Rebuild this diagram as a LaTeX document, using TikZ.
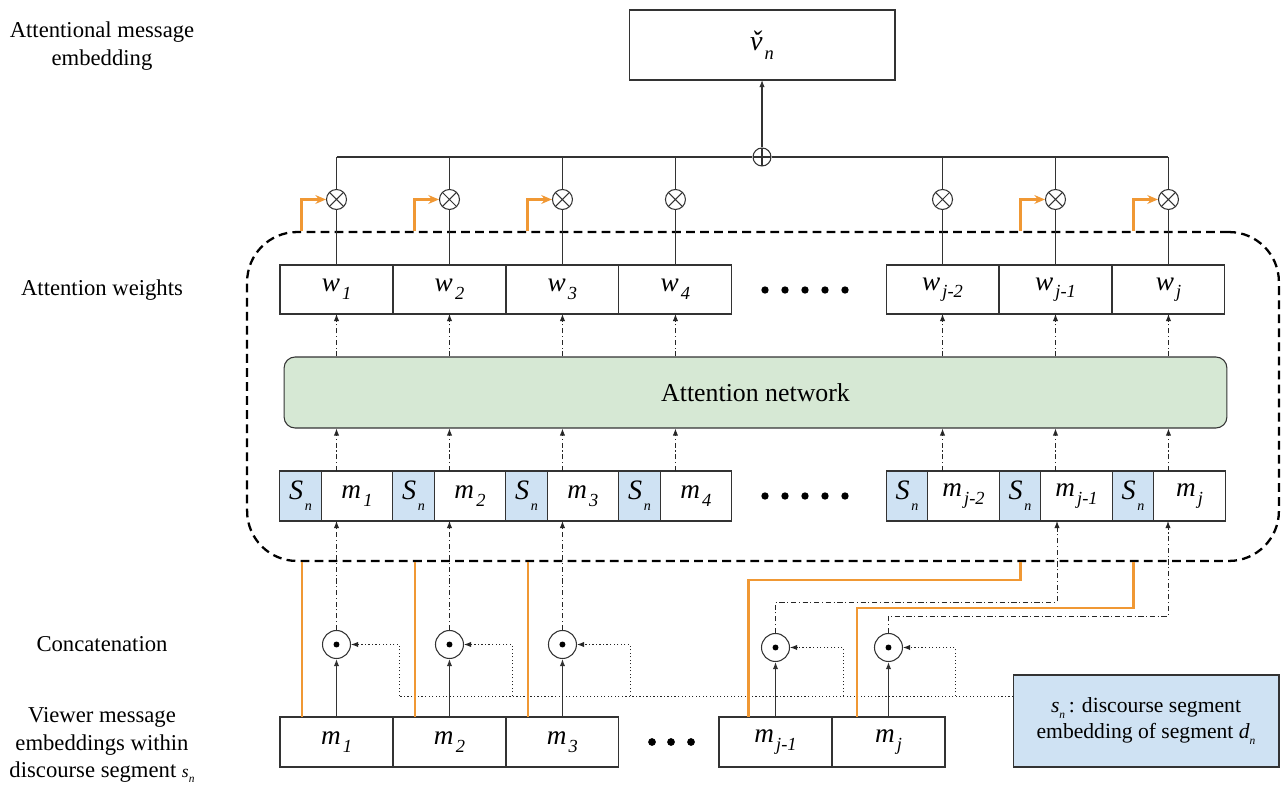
\documentclass[tikz,border=0pt]{standalone}
\usepackage{fontspec}
\setmainfont{Liberation Serif}
\usetikzlibrary{positioning,arrows.meta,calc}

\definecolor{snblue}{RGB}{207,226,243}
\definecolor{netgreen}{RGB}{214,232,212}
\definecolor{orng}{RGB}{240,152,52}

% italic letter with lowered italic index
\newcommand{\vs}[2]{\textit{#1}\kern1.2pt\raisebox{-0.6ex}{\fontsize{10.5}{11}\selectfont\textit{#2}}}
\newcommand{\sn}{{\fontsize{16}{18}\selectfont\textit{S}}\kern1pt\raisebox{-0.9ex}{\fontsize{8}{8}\selectfont\textit{n}}}
\newcommand{\smallidx}[2]{\textit{#1}\raisebox{-0.6ex}{\fontsize{6.5}{7}\selectfont\textit{#2}}}

\begin{document}
\begin{tikzpicture}[
    x=0.02cm, y=-0.02cm,
    >={Latex[length=4pt,width=3pt]},
    font=\fontsize{12.9}{15.6}\selectfont,
    thinln/.style={draw=black!80, line width=0.6pt},
    cell/.style={
        rectangle,
        thinln,
        outer sep=0pt,
        inner sep=0pt,
        fill=white,
        minimum height=0.98cm,
        font=\fontsize{15.5}{18}\selectfont
    },
    wbox/.style={cell, minimum width=2.26cm},
    snbox/.style={cell, fill=snblue, minimum width=0.83cm, minimum height=1cm},
    mbox/.style={cell, minimum width=1.43cm, minimum height=1cm},
    msgbox/.style={cell, minimum width=2.26cm, minimum height=1cm},
    mulop/.style={
        circle,
        thinln,
        minimum size=0.4cm,
        inner sep=0pt,
        path picture={\draw[black!80, line width=0.6pt]
            (path picture bounding box.north west) -- (path picture bounding box.south east)
            (path picture bounding box.south west) -- (path picture bounding box.north east);}
    },
    addop/.style={
        circle,
        thinln,
        minimum size=0.36cm,
        inner sep=0pt,
        path picture={\draw[black!80, line width=0.6pt]
            (path picture bounding box.north) -- (path picture bounding box.south)
            (path picture bounding box.west) -- (path picture bounding box.east);}
    },
    catop/.style={
        circle,
        thinln,
        minimum size=0.56cm,
        inner sep=0pt,
        path picture={\fill[black] (path picture bounding box.center) circle (1.7pt);}
    },
    dd/.style={->, draw=black!85, line width=0.5pt, dash pattern=on 3pt off 1.5pt on 0.6pt off 1.5pt},
    feed/.style={->, draw=black!85, line width=0.5pt, dash pattern=on 0.7pt off 1.3pt},
    orngln/.style={draw=orng, line width=1.2pt},
    orngarr/.style={orngln, -{Stealth[length=6pt,width=5pt]}},
    sidelbl/.style={align=center}
  ]
\useasboundingbox (0,0) rectangle (1283,786);

% side labels
\node [sidelbl] (lblout) at (102,46) {Attentional message\\embedding};
\node [sidelbl] (lblw) at (102,290) {Attention weights};
\node [sidelbl] (lblcat) at (102,644) {Concatenation};
\node [sidelbl] (lblin) at (102,745) {Viewer message\\embeddings within\\discourse segment {\fontsize{10}{10}\selectfont\smallidx{s}{n}}};

% the attention block
\node [draw=black, line width=1.3pt, dash pattern=on 5pt off 3pt, rounded corners=1cm,
       minimum width=20.64cm, minimum height=6.58cm] (attnbox) at (763,396.5) {};
\node [thinln, fill=netgreen, rounded corners=0.22cm, minimum width=18.86cm, minimum height=1.42cm,
       font=\fontsize{14.7}{17}\selectfont] (attnnet) at (755.5,392.5) {Attention network};

% weights
\node [wbox] (w1) at (336.5,289.5) {\vs{w}{1}};
\node [wbox, right=0pt of w1] (w2) {\vs{w}{2}};
\node [wbox, right=0pt of w2] (w3) {\vs{w}{3}};
\node [wbox, right=0pt of w3] (w4) {\vs{w}{4}};
\node [wbox] (w5) at (942.5,289.5) {\vs{w}{j-2}};
\node [wbox, right=0pt of w5] (w6) {\vs{w}{j-1}};
\node [wbox, right=0pt of w6] (w7) {\vs{w}{j}};

% concatenated inputs
\node [snbox] (s1) at (300.5,496) {\sn};
\node [mbox, right=0pt of s1] (in1) {\vs{m}{1}};
\node [snbox, right=0pt of in1] (s2) {\sn};
\node [mbox, right=0pt of s2] (in2) {\vs{m}{2}};
\node [snbox, right=0pt of in2] (s3) {\sn};
\node [mbox, right=0pt of s3] (in3) {\vs{m}{3}};
\node [snbox, right=0pt of in3] (s4) {\sn};
\node [mbox, right=0pt of s4] (in4) {\vs{m}{4}};
\node [snbox] (s5) at (907,496) {\sn};
\node [mbox, right=0pt of s5] (in5) {\vs{m}{j-2}};
\node [snbox, right=0pt of in5] (s6) {\sn};
\node [mbox, right=0pt of s6] (in6) {\vs{m}{j-1}};
\node [snbox, right=0pt of in6] (s7) {\sn};
\node [mbox, right=0pt of s7] (in7) {\vs{m}{j}};

% viewer messages
\node [msgbox] (bm1) at (336.5,742) {\vs{m}{1}};
\node [msgbox, right=0pt of bm1] (bm2) {\vs{m}{2}};
\node [msgbox, right=0pt of bm2] (bm3) {\vs{m}{3}};
\node [msgbox] (bm4) at (775.5,742) {\vs{m}{j-1}};
\node [msgbox, right=0pt of bm4] (bm5) {\vs{m}{j}};

% legend
\node [cell, fill=snblue, minimum width=5.32cm, minimum height=1.84cm, align=center,
       font=\fontsize{12.3}{15.3}\selectfont] (legend) at (1146,721)
  {\smallidx{s}{n}\,: discourse segment\\embedding of segment \smallidx{d}{n}};

% dots
\foreach \x in {765,785,...,845} {
  \fill (\x,290) circle (2.1pt);
  \fill (\x,496) circle (2.1pt);
}
\foreach \x in {652,671,691} \fill (\x,742) circle (2.2pt);

% operators
\node [mulop, above=1.1cm of w1] (mul1) {};
\node [mulop, above=1.1cm of w2] (mul2) {};
\node [mulop, above=1.1cm of w3] (mul3) {};
\node [mulop, above=1.1cm of w4] (mul4) {};
\node [mulop, above=1.1cm of w5] (mul5) {};
\node [mulop, above=1.1cm of w6] (mul6) {};
\node [mulop, above=1.1cm of w7] (mul7) {};
\node [addop] (add) at (762,157) {};
\node [cell, minimum width=5.32cm, minimum height=1.4cm, font=\fontsize{16}{18}\selectfont] (vout) at (762,45)
  {{\itshape\accent"02C7 v}\kern1.2pt\raisebox{-0.7ex}{\fontsize{10.5}{11}\selectfont\textit{n}}};

\node [catop, above=1.16cm of bm1] (cat1) {};
\node [catop, above=1.16cm of bm2] (cat2) {};
\node [catop, above=1.16cm of bm3] (cat3) {};
\node [catop, above=1.1cm of bm4] (cat4) {};
\node [catop, above=1.1cm of bm5] (cat5) {};

% weighted sum
\foreach \i in {1,...,7} {
  \draw [thinln] (w\i) -- (mul\i);
  \draw [thinln] (mul\i) -- (mul\i |- add);
  \draw [dd] (mul\i |- attnnet.north) -- (w\i);
  \draw [dd] (mul\i |- s1.north) -- (mul\i |- attnnet.south);
}
\draw [thinln] (mul1 |- add) -- (add) -- (mul7 |- add);
\draw [thinln, ->] (add) -- (vout);

% concatenation
\foreach \i in {1,...,5} \draw [thinln, ->] (bm\i) -- (cat\i);
\foreach \i in {1,2,3} \draw [dd] (cat\i) -- (cat\i |- in\i.south);
\coordinate (tj1) at (1057,602);
\coordinate (tj) at (1168,616);
\draw [dd] (cat4) |- (tj1) -- (tj1 |- in6.south);
\draw [dd] (cat5) |- (tj) -- (tj |- in7.south);

% segment embedding feed
\coordinate (feedl) at (399,696);
\draw [feed, -] (legend.west |- feedl) -- (feedl);
\foreach \c/\x in {1/399, 2/512, 3/630, 4/843, 5/955} {
  \coordinate (fd\c) at (\x,696);
  \draw [feed] (fd\c) |- (cat\c);
}

% residual paths
\coordinate (ob1) at ([xshift=0.44cm]bm1.north west);
\coordinate (ob2) at ([xshift=0.44cm]bm2.north west);
\coordinate (ob3) at ([xshift=0.44cm]bm3.north west);
\coordinate (ob4) at ([xshift=0.59cm]bm4.north west);
\coordinate (ob5) at ([xshift=0.5cm]bm5.north west);
\foreach \i in {1,2,3,6,7} \coordinate (ot\i) at ([xshift=-0.7cm]mul\i.center);
\coordinate (tb4) at (ot6 |- 0,580);
\coordinate (tb5) at (ot7 |- 0,608);
\draw [orngln] (ob1) -- (ob1 |- attnbox.south);
\draw [orngln] (ob2) -- (ob2 |- attnbox.south);
\draw [orngln] (ob3) -- (ob3 |- attnbox.south);
\draw [orngln] (ob4) |- (tb4) -- (tb4 |- attnbox.south);
\draw [orngln] (ob5) |- (tb5) -- (tb5 |- attnbox.south);
\foreach \i in {1,2,3,6,7} \draw [orngarr] (ot\i |- attnbox.north) |- (mul\i);

\end{tikzpicture}
\end{document}
